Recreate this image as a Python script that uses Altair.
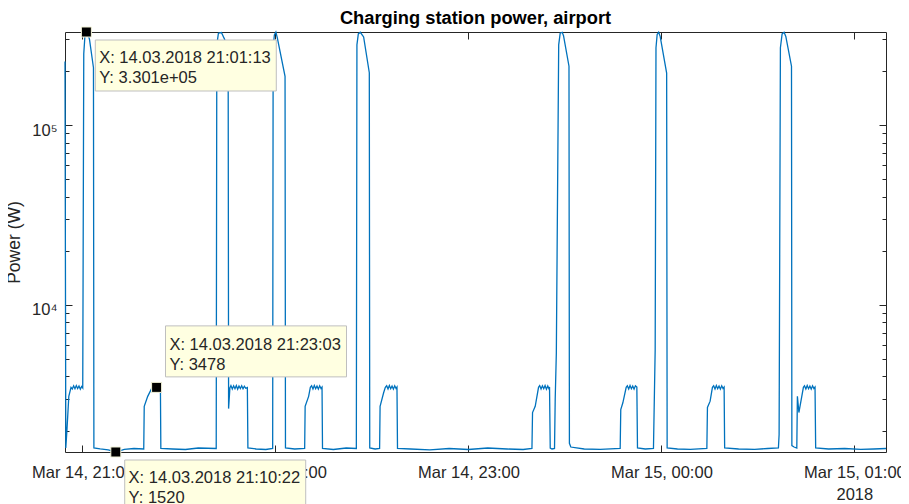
import altair as alt
import pandas as pd

# ---------------- data ----------------
times = [
    # tail of a fast charge, slow charge, fast charge
    "2018-03-14T20:54:34", "2018-03-14T20:54:49", "2018-03-14T20:55:11", "2018-03-14T20:55:45",
    "2018-03-14T20:56:26", "2018-03-14T20:56:50", "2018-03-14T20:57:15", "2018-03-14T20:57:40",
    "2018-03-14T20:58:05", "2018-03-14T20:58:30", "2018-03-14T20:58:55", "2018-03-14T20:59:20",
    "2018-03-14T20:59:45", "2018-03-14T21:00:05", "2018-03-14T21:00:24", "2018-03-14T21:00:47",
    "2018-03-14T21:01:13", "2018-03-14T21:01:43", "2018-03-14T21:02:11", "2018-03-14T21:03:25",
    "2018-03-14T21:03:33",
    # idle
    "2018-03-14T21:05:30", "2018-03-14T21:08:00", "2018-03-14T21:10:22", "2018-03-14T21:13:00",
    "2018-03-14T21:16:00", "2018-03-14T21:19:03",
    # slow charge
    "2018-03-14T21:19:12", "2018-03-14T21:20:17", "2018-03-14T21:21:40", "2018-03-14T21:22:00",
    "2018-03-14T21:22:20", "2018-03-14T21:22:40", "2018-03-14T21:23:03", "2018-03-14T21:23:25",
    "2018-03-14T21:23:50", "2018-03-14T21:24:14", "2018-03-14T21:24:22",
    # idle
    "2018-03-14T21:28:00", "2018-03-14T21:32:00", "2018-03-14T21:36:00", "2018-03-14T21:41:35",
    # fast charge followed by slow charge
    "2018-03-14T21:41:46", "2018-03-14T21:42:16", "2018-03-14T21:43:12", "2018-03-14T21:44:13",
    "2018-03-14T21:45:18", "2018-03-14T21:45:26", "2018-03-14T21:45:50", "2018-03-14T21:46:10",
    "2018-03-14T21:46:35", "2018-03-14T21:47:00", "2018-03-14T21:47:25", "2018-03-14T21:47:50",
    "2018-03-14T21:48:15", "2018-03-14T21:48:40", "2018-03-14T21:49:05", "2018-03-14T21:49:30",
    "2018-03-14T21:49:55", "2018-03-14T21:50:20", "2018-03-14T21:50:45", "2018-03-14T21:51:16",
    "2018-03-14T21:51:26",
    # idle
    "2018-03-14T21:54:00", "2018-03-14T21:57:00", "2018-03-14T21:59:08",
    # fast charge
    "2018-03-14T21:59:17", "2018-03-14T21:59:40", "2018-03-14T22:00:08", "2018-03-14T22:00:36",
    "2018-03-14T22:02:59", "2018-03-14T22:03:07",
    # idle
    "2018-03-14T22:06:00", "2018-03-14T22:09:05",
    # slow charge
    "2018-03-14T22:09:14", "2018-03-14T22:10:19", "2018-03-14T22:10:51", "2018-03-14T22:11:15",
    "2018-03-14T22:11:40", "2018-03-14T22:12:05", "2018-03-14T22:12:30", "2018-03-14T22:12:55",
    "2018-03-14T22:13:20", "2018-03-14T22:13:45", "2018-03-14T22:14:10", "2018-03-14T22:14:29",
    "2018-03-14T22:14:38",
    # idle
    "2018-03-14T22:18:00", "2018-03-14T22:22:00", "2018-03-14T22:25:09",
    # fast charge
    "2018-03-14T22:25:20", "2018-03-14T22:25:46", "2018-03-14T22:26:23", "2018-03-14T22:27:25",
    "2018-03-14T22:29:11", "2018-03-14T22:29:19",
    # idle
    "2018-03-14T22:31:00", "2018-03-14T22:32:23",
    # slow charge
    "2018-03-14T22:32:32", "2018-03-14T22:33:38", "2018-03-14T22:34:10", "2018-03-14T22:34:35",
    "2018-03-14T22:35:00", "2018-03-14T22:35:25", "2018-03-14T22:35:50", "2018-03-14T22:36:15",
    "2018-03-14T22:36:40", "2018-03-14T22:37:05", "2018-03-14T22:37:30", "2018-03-14T22:37:47",
    "2018-03-14T22:37:57",
    # long idle
    "2018-03-14T22:42:00", "2018-03-14T22:48:00", "2018-03-14T22:54:00", "2018-03-14T23:00:00",
    "2018-03-14T23:06:00", "2018-03-14T23:12:00", "2018-03-14T23:17:00", "2018-03-14T23:19:45",
    # slow charge, then fast charge
    "2018-03-14T23:19:56", "2018-03-14T23:20:46", "2018-03-14T23:21:48", "2018-03-14T23:22:10",
    "2018-03-14T23:22:35", "2018-03-14T23:23:00", "2018-03-14T23:23:25", "2018-03-14T23:23:50",
    "2018-03-14T23:24:15", "2018-03-14T23:24:40", "2018-03-14T23:25:00", "2018-03-14T23:25:13",
    "2018-03-14T23:25:26", "2018-03-14T23:26:00", "2018-03-14T23:26:46", "2018-03-14T23:26:59",
    "2018-03-14T23:27:20", "2018-03-14T23:28:04", "2018-03-14T23:28:32", "2018-03-14T23:29:10",
    "2018-03-14T23:29:34", "2018-03-14T23:31:16", "2018-03-14T23:31:24", "2018-03-14T23:31:50",
    # idle
    "2018-03-14T23:36:00", "2018-03-14T23:41:00", "2018-03-14T23:47:11",
    # slow charge
    "2018-03-14T23:47:22", "2018-03-14T23:48:01", "2018-03-14T23:49:03", "2018-03-14T23:49:25",
    "2018-03-14T23:49:50", "2018-03-14T23:50:15", "2018-03-14T23:50:40", "2018-03-14T23:51:05",
    "2018-03-14T23:51:30", "2018-03-14T23:51:55", "2018-03-14T23:52:22", "2018-03-14T23:52:34",
    # idle
    "2018-03-14T23:55:00", "2018-03-14T23:57:32",
    # fast charge across midnight
    "2018-03-14T23:58:04", "2018-03-14T23:58:19", "2018-03-14T23:58:41", "2018-03-14T23:59:09",
    "2018-03-14T23:59:37", "2018-03-15T00:01:38", "2018-03-15T00:01:47",
    # idle
    "2018-03-15T00:05:00", "2018-03-15T00:09:00", "2018-03-15T00:14:08",
    # slow charge
    "2018-03-15T00:14:19", "2018-03-15T00:15:09", "2018-03-15T00:15:52", "2018-03-15T00:16:15",
    "2018-03-15T00:16:40", "2018-03-15T00:17:05", "2018-03-15T00:17:30", "2018-03-15T00:17:55",
    "2018-03-15T00:18:20", "2018-03-15T00:18:45", "2018-03-15T00:19:10", "2018-03-15T00:19:30",
    "2018-03-15T00:19:40",
    # idle
    "2018-03-15T00:24:00", "2018-03-15T00:29:00", "2018-03-15T00:33:00", "2018-03-15T00:36:23",
    # fast charge, then slow charge
    "2018-03-15T00:36:36", "2018-03-15T00:37:00", "2018-03-15T00:37:32", "2018-03-15T00:38:09",
    "2018-03-15T00:38:41", "2018-03-15T00:40:27", "2018-03-15T00:40:34", "2018-03-15T00:41:15",
    "2018-03-15T00:42:06", "2018-03-15T00:42:17", "2018-03-15T00:42:45", "2018-03-15T00:44:09",
    "2018-03-15T00:44:30", "2018-03-15T00:44:55", "2018-03-15T00:45:20", "2018-03-15T00:45:45",
    "2018-03-15T00:46:10", "2018-03-15T00:46:35", "2018-03-15T00:47:00", "2018-03-15T00:47:25",
    "2018-03-15T00:47:46", "2018-03-15T00:47:58",
    # idle
    "2018-03-15T00:52:00", "2018-03-15T00:57:00", "2018-03-15T01:02:00", "2018-03-15T01:06:00",
    "2018-03-15T01:09:50",
]

power_w = [
    226000, 1600, 2030, 3100,
    3480, 3410, 3550, 3420,
    3560, 3430, 3540, 3400,
    3520, 3450, 250000, 318000,
    330100, 322000, 300000, 209000,
    1600,
    1580, 1560, 1520, 1570,
    1590, 1580,
    2730, 3100, 3480, 3420,
    3550, 3430, 3478, 3540,
    3410, 3470, 1590,
    1580, 1570, 1600, 1590,
    280000, 325000, 328000, 300000,
    200000, 2650, 3450, 3560,
    3410, 3550, 3420, 3560,
    3400, 3540, 3430, 3550,
    3420, 3530, 3440, 3470,
    1600,
    1580, 1570, 1590,
    270000, 318000, 330000, 305000,
    187000, 1600,
    1580, 1590,
    2730, 3100, 3480, 3550,
    3410, 3560, 3420, 3540,
    3400, 3550, 3430, 3490,
    1590,
    1570, 1600, 1590,
    280000, 322000, 329000, 310000,
    196000, 1600,
    1580, 1590,
    2730, 3245, 3480, 3550,
    3410, 3560, 3420, 3540,
    3400, 3550, 3430, 3490,
    1590,
    1580, 1560, 1590, 1570,
    1600, 1580, 1570, 1590,
    2520, 2730, 3480, 3560,
    3410, 3550, 3420, 3560,
    3400, 3540, 3430, 3490,
    1600, 1580, 1590, 3000,
    5400, 280000, 325000, 329000,
    315000, 213000, 1700, 1620,
    1580, 1570, 1590,
    2620, 2855, 3480, 3550,
    3410, 3560, 3420, 3540,
    3400, 3550, 3490, 1600,
    1580, 1590,
    5650, 270000, 320000, 329000,
    312000, 195000, 1600,
    1580, 1570, 1590,
    2690, 2915, 3480, 3550,
    3410, 3560, 3420, 3540,
    3400, 3550, 3430, 3490,
    1600,
    1580, 1570, 1590, 1600,
    1900, 270000, 322000, 329000,
    312000, 213000, 1650, 1620,
    1600, 3105, 2520, 3480,
    3550, 3410, 3560, 3420,
    3540, 3400, 3550, 3430,
    3490, 1600,
    1580, 1590, 1570, 1580,
    1590,
]
assert len(times) == len(power_w)

hour_ticks = ["2018-03-14T21:00:00", "2018-03-14T22:00:00", "2018-03-14T23:00:00",
              "2018-03-15T00:00:00", "2018-03-15T01:00:00"]
y_major = [10000, 100000]
y_minor = [2000, 3000, 4000, 5000, 6000, 7000, 8000, 9000,
           20000, 30000, 40000, 50000, 60000, 70000, 80000, 90000,
           200000, 300000]

tip_times = ["2018-03-14T21:01:13", "2018-03-14T21:10:22", "2018-03-14T21:23:03"]
tip_values = [330100, 1520, 3478]
tip_labels = ["X: 14.03.2018 21:01:13\nY: 3.301e+05",
              "X: 14.03.2018 21:10:22\nY: 1520",
              "X: 14.03.2018 21:23:03\nY: 3478"]
tip_side = ["below", "below", "above"]

# ---------------- chart ----------------
FONT = "Liberation Sans"
AXC = "#262626"
LINE = "#0072BD"

df = pd.DataFrame({"time": times, "power": power_w})
tips = pd.DataFrame({"time": tip_times, "power": tip_values,
                     "label": tip_labels, "side": tip_side})

hour_dt = []
for h in hour_ticks:
    ts = pd.Timestamp(h)
    hour_dt.append(alt.DateTime(year=ts.year, month=ts.month, date=ts.day,
                                hours=ts.hour, minutes=0, seconds=0))

xscale = alt.Scale(nice=False)
yscale = alt.Scale(type="log", domain=[1520, 330100], nice=False)

common = dict(domain=False, grid=False, tickColor=AXC, tickWidth=1)

x_bottom = alt.Axis(
    orient="bottom", values=hour_dt, offset=-7, tickSize=7,
    labelExpr="datum.index == 1 ? [timeFormat(datum.value, '%b %d, %H:%M'), timeFormat(datum.value, '%Y')] : timeFormat(datum.value, '%b %d, %H:%M')",
    labelFont=FONT, labelFontSize=16.5, labelColor=AXC, labelPadding=12,
    labelFlush=False, labelOverlap=False, labelLineHeight=22, labelBound=False,
    title=None, **common)
x_top = alt.Axis(orient="top", values=hour_dt, offset=-7, tickSize=7,
                 labels=False, title=None, **common)
y_left_major = alt.Axis(
    orient="left", values=y_major, offset=-7, tickSize=7,
    labelExpr="datum.value >= 100000 ? '10\u2075' : '10\u2074'",
    labelFont=FONT, labelFontSize=16.5, labelColor=AXC, labelPadding=8, labelOffset=5,
    title="Power (W)", titleFont=FONT, titleFontSize=17.5, titleFontWeight="normal",
    titleColor=AXC, titleX=-49, titleY=210, **common)
y_left_minor = alt.Axis(orient="left", values=y_minor, offset=-4, tickSize=4,
                        labels=False, title=None, **common)
y_right_major = alt.Axis(orient="right", values=y_major, offset=-7, tickSize=7,
                         labels=False, title=None, **common)
y_right_minor = alt.Axis(orient="right", values=y_minor, offset=-4, tickSize=4,
                         labels=False, title=None, **common)

base = alt.Chart(df)

ax_a = base.mark_line(opacity=0).encode(
    x=alt.X("time:T", scale=xscale, axis=x_top),
    y=alt.Y("power:Q", scale=yscale, axis=y_left_minor))
ax_b = base.mark_line(opacity=0).encode(
    x=alt.X("time:T", scale=xscale, axis=None),
    y=alt.Y("power:Q", scale=yscale, axis=y_right_major))
ax_c = base.mark_line(opacity=0).encode(
    x=alt.X("time:T", scale=xscale, axis=None),
    y=alt.Y("power:Q", scale=yscale, axis=y_right_minor))

line = base.mark_line(color=LINE, strokeWidth=1.3).encode(
    x=alt.X("time:T", scale=xscale, axis=x_bottom),
    y=alt.Y("power:Q", scale=yscale, axis=y_left_major))

tip_base = alt.Chart(tips)
enc = dict(x=alt.X("time:T", scale=xscale, axis=None),
           y=alt.Y("power:Q", scale=yscale, axis=None))

box_below = tip_base.transform_filter("datum.side == 'below'").mark_rect(
    width=181, height=51, fill="#FFFFE1", stroke="#BFBFBF", strokeWidth=1,
    xOffset=99.4, yOffset=33.5).encode(**enc)
box_above = tip_base.transform_filter("datum.side == 'above'").mark_rect(
    width=181, height=51, fill="#FFFFE1", stroke="#BFBFBF", strokeWidth=1,
    xOffset=99.4, yOffset=-36).encode(**enc)
text_below = tip_base.transform_filter("datum.side == 'below'").mark_text(
    align="left", baseline="top", dx=12.8, dy=18.2, lineBreak="\n", lineHeight=20,
    font=FONT, fontSize=16.5, color="#262626").encode(text="label:N", **enc)
text_above = tip_base.transform_filter("datum.side == 'above'").mark_text(
    align="left", baseline="top", dx=12.8, dy=-50.7, lineBreak="\n", lineHeight=20,
    font=FONT, fontSize=16.5, color="#262626").encode(text="label:N", **enc)
markers = tip_base.mark_square(size=100, fill="#000000", stroke="#F2F2D8",
                               strokeWidth=1, opacity=1, filled=True).encode(**enc)

chart = alt.layer(
    ax_a, ax_b, ax_c, line, box_below, box_above, text_below, text_above, markers
).resolve_axis(x="independent", y="independent").properties(
    width=821, height=420,
    title=alt.Title("Charging station power, airport", font=FONT, fontSize=18.3,
                    fontWeight="bold", color="#000000", anchor="middle",
                    frame="group", offset=-3),
    autosize=alt.AutoSizeParams(type="none"),
    padding={"left": 57, "top": 24, "right": 15, "bottom": 52},
).configure_view(stroke=AXC, strokeWidth=1)

chart.save("out.html", embed_options={"renderer": "svg", "actions": False})
